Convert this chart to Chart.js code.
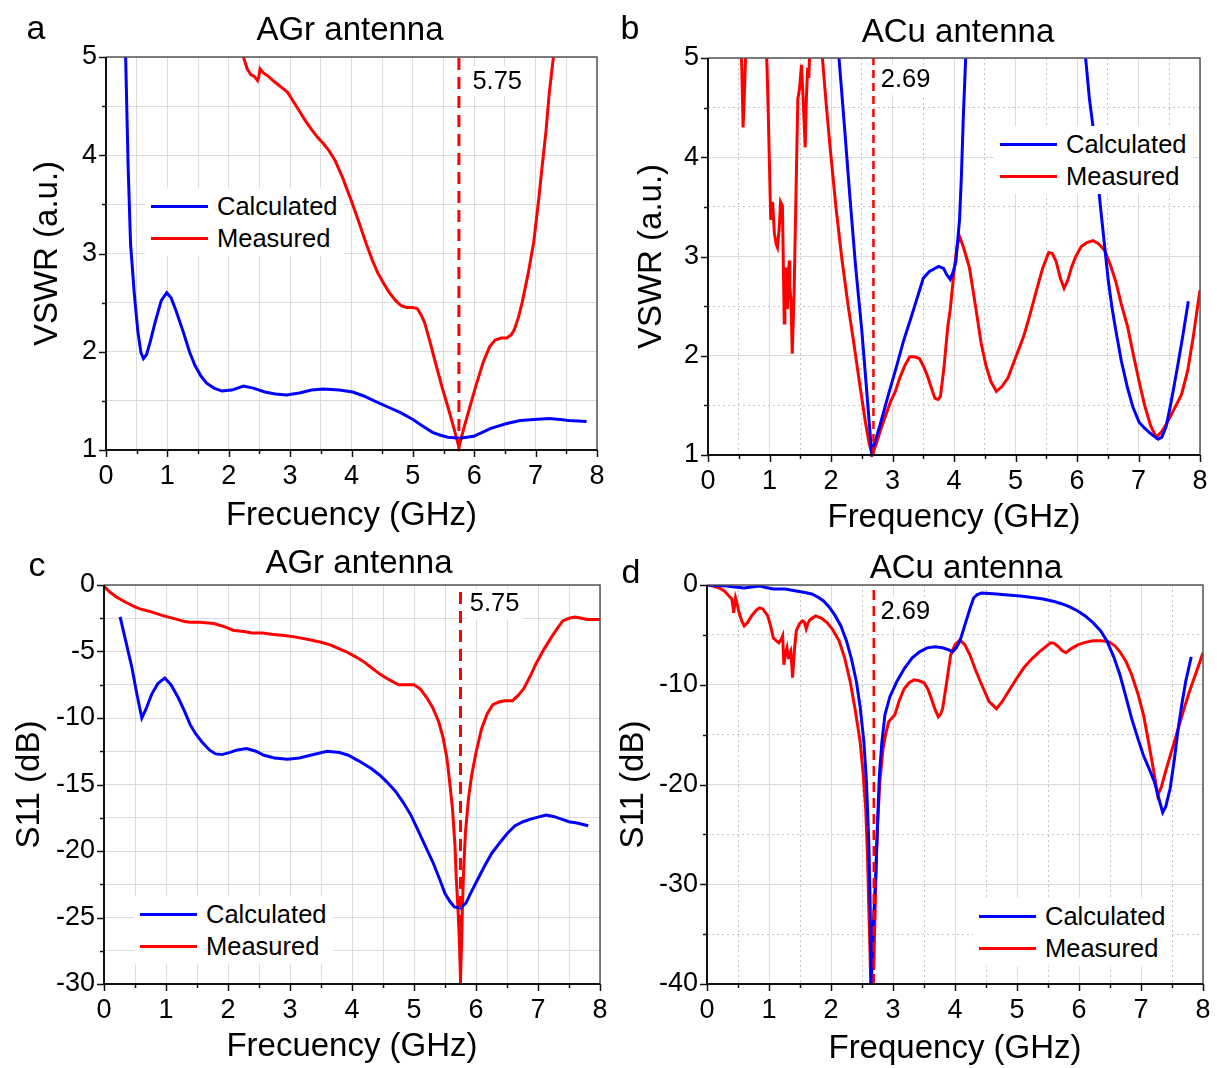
<!DOCTYPE html>
<html>
<head>
<meta charset="utf-8">
<script src="https://cdn.jsdelivr.net/npm/chart.js@4.4.1/dist/chart.umd.min.js"></script>
<style>
  body { margin: 0; background: #fff; font-family: "Liberation Sans", Arial, sans-serif; }
  #page { position: relative; width: 1217px; height: 1068px; overflow: hidden; }
  canvas { position: absolute; }
  .lbl { position: absolute; transform: translate(-50%, -50%); line-height: 1; white-space: nowrap; color: #000; }
  .legend { position: absolute; background: #fff; padding: 2px 6px; }
  .legend .row { display: flex; align-items: center; height: 32px; font-size: 25.5px; color: #000; }
  .legend .swatch { width: 57px; height: 3px; margin-right: 9px; }
</style>
</head>
<body>
<div id="page"></div>
<script>
// ---- data ----
const seriesNames = ['Calculated', 'Measured'];
const markerGHz = [5.75, 2.69, 5.75, 2.69];

// a: VSWR, AGr antenna
const aCalcX = [0.30, 0.32, 0.36, 0.40, 0.46, 0.52, 0.57, 0.61, 0.66, 0.72, 0.80, 0.90, 0.99, 1.06, 1.14, 1.26, 1.36, 1.45, 1.55, 1.64, 1.76, 1.89, 2.05, 2.24, 2.40, 2.59, 2.76, 2.94, 3.15, 3.35, 3.54, 3.80, 4.02, 4.20, 4.37, 4.62, 4.80, 5.00, 5.17, 5.32, 5.45, 5.57, 5.77, 5.99, 6.13, 6.27, 6.53, 6.75, 6.97, 7.22, 7.40, 7.54, 7.83];
const aCalcY = [5.60, 5.00, 3.90, 3.10, 2.60, 2.20, 1.99, 1.93, 1.97, 2.10, 2.30, 2.52, 2.60, 2.55, 2.42, 2.20, 2.00, 1.86, 1.75, 1.68, 1.63, 1.60, 1.61, 1.65, 1.63, 1.59, 1.57, 1.56, 1.58, 1.61, 1.62, 1.61, 1.59, 1.55, 1.50, 1.43, 1.38, 1.31, 1.24, 1.18, 1.15, 1.13, 1.12, 1.14, 1.18, 1.22, 1.27, 1.30, 1.31, 1.32, 1.31, 1.30, 1.29];
const aMeasX = [2.15, 2.24, 2.30, 2.36, 2.42, 2.47, 2.49, 2.51, 2.56, 2.65, 2.76, 2.88, 2.96, 3.05, 3.15, 3.25, 3.35, 3.45, 3.54, 3.63, 3.73, 3.85, 3.99, 4.12, 4.24, 4.34, 4.43, 4.53, 4.62, 4.72, 4.81, 4.90, 5.00, 5.07, 5.13, 5.19, 5.27, 5.38, 5.48, 5.57, 5.66, 5.75, 5.83, 5.92, 6.03, 6.15, 6.25, 6.34, 6.44, 6.53, 6.60, 6.65, 6.72, 6.78, 6.88, 6.97, 7.05, 7.10, 7.17, 7.22, 7.29, 7.33];
const aMeasY = [5.30, 5.00, 4.88, 4.82, 4.80, 4.76, 4.80, 4.88, 4.84, 4.80, 4.74, 4.68, 4.64, 4.55, 4.45, 4.35, 4.26, 4.18, 4.12, 4.05, 3.95, 3.78, 3.55, 3.32, 3.10, 2.93, 2.80, 2.69, 2.60, 2.52, 2.47, 2.45, 2.45, 2.44, 2.38, 2.30, 2.12, 1.86, 1.63, 1.44, 1.24, 1.03, 1.22, 1.42, 1.66, 1.90, 2.05, 2.12, 2.14, 2.14, 2.17, 2.22, 2.35, 2.50, 2.80, 3.12, 3.55, 3.85, 4.25, 4.62, 5.00, 5.30];

// b: VSWR, ACu antenna
const bCalcX = [2.10, 2.13, 2.22, 2.31, 2.40, 2.50, 2.58, 2.66, 2.72, 2.81, 2.93, 3.06, 3.18, 3.31, 3.42, 3.50, 3.60, 3.75, 3.83, 3.88, 3.94, 3.99, 4.03, 4.09, 4.12, 4.15, 4.19, 4.21, 6.12, 6.14, 6.20, 6.26, 6.32, 6.38, 6.45, 6.51, 6.57, 6.63, 6.72, 6.82, 6.91, 7.01, 7.10, 7.17, 7.25, 7.32, 7.38, 7.45, 7.52, 7.58, 7.64, 7.72, 7.81];
const bCalcY = [5.30, 5.00, 4.30, 3.58, 2.90, 2.26, 1.65, 1.03, 1.14, 1.33, 1.60, 1.88, 2.15, 2.40, 2.62, 2.78, 2.85, 2.90, 2.88, 2.82, 2.77, 2.85, 2.95, 3.37, 3.80, 4.38, 5.00, 5.40, 5.40, 5.00, 4.60, 4.31, 3.90, 3.51, 3.10, 2.75, 2.48, 2.26, 1.95, 1.68, 1.48, 1.33, 1.27, 1.23, 1.19, 1.16, 1.18, 1.29, 1.50, 1.70, 1.91, 2.20, 2.55];
const bMeasX = [0.52, 0.55, 0.57, 0.59, 0.61, 0.63, 0.93, 0.96, 0.98, 1.00, 1.02, 1.05, 1.08, 1.11, 1.13, 1.16, 1.18, 1.21, 1.24, 1.25, 1.27, 1.29, 1.32, 1.33, 1.35, 1.37, 1.40, 1.43, 1.46, 1.49, 1.52, 1.55, 1.58, 1.60, 1.62, 1.64, 1.65, 1.67, 1.84, 1.86, 1.92, 1.99, 2.08, 2.18, 2.28, 2.37, 2.47, 2.56, 2.62, 2.67, 2.74, 2.81, 2.89, 2.97, 3.04, 3.12, 3.20, 3.28, 3.36, 3.44, 3.50, 3.56, 3.63, 3.69, 3.74, 3.78, 3.84, 3.90, 3.94, 4.00, 4.05, 4.09, 4.15, 4.25, 4.35, 4.44, 4.52, 4.60, 4.69, 4.78, 4.88, 5.00, 5.13, 5.22, 5.32, 5.44, 5.54, 5.60, 5.66, 5.73, 5.79, 5.85, 5.91, 5.98, 6.07, 6.16, 6.26, 6.35, 6.45, 6.54, 6.63, 6.72, 6.82, 6.92, 7.01, 7.10, 7.20, 7.29, 7.37, 7.45, 7.57, 7.70, 7.80, 7.89, 7.95, 8.00];
const bMeasY = [5.30, 4.90, 4.30, 4.60, 5.00, 5.40, 5.40, 4.90, 4.45, 3.90, 3.37, 3.55, 3.23, 3.12, 3.09, 3.30, 3.55, 3.51, 2.33, 2.45, 2.89, 2.47, 2.96, 2.70, 2.54, 2.02, 2.64, 3.60, 4.58, 4.70, 4.93, 4.55, 4.10, 4.60, 4.90, 4.80, 5.00, 5.40, 5.40, 5.00, 4.55, 4.07, 3.50, 2.96, 2.50, 2.13, 1.70, 1.33, 1.12, 1.00, 1.12, 1.26, 1.40, 1.54, 1.63, 1.78, 1.90, 1.99, 1.99, 1.97, 1.90, 1.81, 1.68, 1.57, 1.56, 1.59, 1.90, 2.30, 2.47, 2.85, 3.10, 3.20, 3.10, 2.89, 2.50, 2.13, 1.90, 1.74, 1.64, 1.69, 1.78, 1.98, 2.19, 2.38, 2.61, 2.88, 3.04, 3.03, 2.95, 2.78, 2.68, 2.76, 2.89, 3.00, 3.10, 3.14, 3.16, 3.13, 3.06, 2.92, 2.75, 2.52, 2.30, 2.00, 1.74, 1.50, 1.29, 1.18, 1.23, 1.31, 1.45, 1.61, 1.85, 2.19, 2.45, 2.66];

// c: S11, AGr antenna
const cCalcX = [0.26, 0.35, 0.45, 0.53, 0.61, 0.68, 0.77, 0.87, 0.98, 1.08, 1.20, 1.30, 1.39, 1.48, 1.58, 1.70, 1.80, 1.90, 2.02, 2.15, 2.30, 2.45, 2.58, 2.75, 2.96, 3.15, 3.33, 3.60, 3.80, 3.94, 4.10, 4.31, 4.45, 4.56, 4.70, 4.82, 4.95, 5.06, 5.20, 5.31, 5.42, 5.50, 5.58, 5.65, 5.75, 5.84, 5.91, 6.02, 6.13, 6.25, 6.38, 6.50, 6.63, 6.76, 6.88, 7.00, 7.13, 7.25, 7.38, 7.50, 7.63, 7.81];
const cCalcY = [-2.4, -4.2, -6.2, -8.2, -10.0, -9.3, -8.2, -7.4, -7.0, -7.5, -8.5, -9.5, -10.5, -11.2, -11.8, -12.4, -12.7, -12.75, -12.6, -12.4, -12.3, -12.5, -12.8, -13.0, -13.1, -13.0, -12.8, -12.5, -12.6, -12.8, -13.2, -13.8, -14.3, -14.8, -15.5, -16.3, -17.3, -18.4, -19.8, -20.9, -22.2, -23.2, -23.8, -24.2, -24.3, -23.9, -23.2, -22.2, -21.2, -20.2, -19.4, -18.7, -18.1, -17.8, -17.6, -17.45, -17.3, -17.4, -17.6, -17.8, -17.9, -18.1];
const cMeasX = [0.00, 0.10, 0.20, 0.35, 0.50, 0.58, 0.75, 0.95, 1.15, 1.30, 1.39, 1.55, 1.77, 1.95, 2.08, 2.25, 2.39, 2.55, 2.70, 2.90, 3.07, 3.30, 3.50, 3.65, 3.75, 3.90, 4.06, 4.20, 4.31, 4.45, 4.59, 4.75, 4.88, 5.00, 5.10, 5.21, 5.30, 5.40, 5.47, 5.53, 5.58, 5.62, 5.66, 5.68, 5.71, 5.73, 5.75, 5.77, 5.78, 5.80, 5.83, 5.88, 5.93, 6.00, 6.09, 6.18, 6.27, 6.37, 6.46, 6.59, 6.68, 6.77, 6.87, 6.97, 7.10, 7.22, 7.32, 7.40, 7.50, 7.60, 7.70, 7.79, 8.00];
const cMeasY = [-0.1, -0.55, -0.9, -1.3, -1.65, -1.8, -2.0, -2.3, -2.55, -2.75, -2.8, -2.8, -2.9, -3.15, -3.4, -3.5, -3.6, -3.6, -3.7, -3.8, -3.9, -4.1, -4.3, -4.5, -4.7, -5.0, -5.4, -5.8, -6.2, -6.7, -7.1, -7.5, -7.5, -7.5, -7.8, -8.5, -9.2, -10.3, -11.5, -13.0, -15.0, -16.8, -19.5, -21.9, -24.4, -26.5, -29.7, -26.5, -24.4, -21.5, -18.6, -16.0, -14.3, -12.6, -10.8, -9.7, -9.0, -8.8, -8.7, -8.7, -8.3, -7.8, -6.9, -5.9, -4.8, -3.9, -3.2, -2.7, -2.5, -2.4, -2.5, -2.6, -2.6];

// d: S11, ACu antenna
const dCalcX = [0.00, 0.32, 0.45, 0.60, 0.72, 0.85, 0.95, 1.07, 1.26, 1.44, 1.58, 1.69, 1.80, 1.88, 1.97, 2.06, 2.16, 2.25, 2.33, 2.41, 2.47, 2.53, 2.57, 2.61, 2.63, 2.65, 2.68, 2.72, 2.75, 2.78, 2.82, 2.87, 2.95, 3.06, 3.18, 3.31, 3.43, 3.55, 3.68, 3.80, 3.90, 3.96, 4.02, 4.08, 4.13, 4.18, 4.24, 4.30, 4.36, 4.43, 4.55, 4.67, 4.85, 5.05, 5.25, 5.42, 5.60, 5.73, 5.85, 5.98, 6.10, 6.23, 6.35, 6.45, 6.56, 6.66, 6.76, 6.85, 6.95, 7.04, 7.13, 7.22, 7.30, 7.35, 7.40, 7.47, 7.54, 7.60, 7.66, 7.72, 7.81];
const dCalcY = [0.0, -0.1, -0.2, -0.3, -0.2, -0.1, -0.25, -0.4, -0.4, -0.6, -0.75, -0.9, -1.25, -1.6, -2.2, -3.0, -4.1, -5.6, -7.4, -9.7, -12.2, -15.7, -19.5, -25.8, -31.5, -40.0, -34.5, -29.2, -24.0, -19.1, -15.8, -13.0, -11.2, -9.7, -8.4, -7.3, -6.7, -6.3, -6.2, -6.3, -6.5, -6.7, -6.3, -5.6, -4.6, -3.6, -2.4, -1.3, -0.95, -0.8, -0.85, -0.9, -1.0, -1.1, -1.25, -1.4, -1.65, -1.9, -2.2, -2.6, -3.1, -3.8, -4.6, -5.6, -7.2, -9.0, -11.3, -13.4, -15.4, -17.1, -18.4, -19.8, -21.7, -22.8, -22.2, -20.4, -17.4, -14.4, -11.9, -9.7, -7.2];
const dMeasX = [0.00, 0.10, 0.20, 0.28, 0.34, 0.40, 0.42, 0.43, 0.45, 0.46, 0.49, 0.51, 0.56, 0.60, 0.65, 0.73, 0.80, 0.85, 0.90, 0.98, 1.03, 1.07, 1.12, 1.16, 1.20, 1.22, 1.24, 1.26, 1.29, 1.31, 1.32, 1.35, 1.37, 1.38, 1.41, 1.44, 1.49, 1.54, 1.57, 1.60, 1.63, 1.66, 1.75, 1.85, 1.94, 2.03, 2.13, 2.22, 2.31, 2.39, 2.47, 2.52, 2.56, 2.59, 2.61, 2.63, 2.64, 2.66, 2.67, 2.69, 2.71, 2.73, 2.75, 2.79, 2.84, 2.88, 2.93, 3.03, 3.10, 3.18, 3.26, 3.34, 3.42, 3.50, 3.56, 3.62, 3.68, 3.73, 3.77, 3.80, 3.86, 3.93, 4.00, 4.08, 4.16, 4.24, 4.33, 4.43, 4.55, 4.67, 4.76, 4.86, 4.98, 5.11, 5.24, 5.36, 5.46, 5.54, 5.60, 5.67, 5.73, 5.79, 5.87, 5.98, 6.10, 6.23, 6.36, 6.48, 6.58, 6.66, 6.76, 6.85, 6.95, 7.04, 7.10, 7.16, 7.22, 7.27, 7.33, 7.41, 7.50, 7.60, 7.70, 7.78, 7.90, 8.00];
const dMeasY = [0.0, -0.1, -0.3, -0.6, -1.0, -1.4, -2.2, -2.8, -1.8, -1.3, -2.0, -2.6, -3.6, -4.1, -3.8, -3.0, -2.5, -2.3, -2.4, -3.1, -4.2, -5.3, -5.6, -5.8, -5.4, -5.1, -8.0, -7.0, -6.3, -7.3, -7.0, -6.6, -8.2, -9.3, -6.5, -4.6, -3.9, -3.6, -3.7, -4.4, -3.8, -3.5, -3.1, -3.35, -3.8, -4.5, -5.6, -7.3, -9.7, -12.5, -15.7, -19.0, -22.5, -27.5, -32.5, -37.0, -40.0, -36.5, -35.9, -38.6, -33.0, -28.0, -24.1, -19.5, -16.4, -15.0, -13.7, -13.0, -11.6, -10.4, -9.8, -9.5, -9.6, -9.8, -10.4, -11.4, -12.5, -13.2, -12.9, -12.4, -10.0, -7.0, -6.0, -5.5, -6.0, -7.0, -8.5, -10.0, -11.7, -12.4, -11.7, -10.7, -9.5, -8.3, -7.4, -6.7, -6.2, -5.8, -5.85, -6.2, -6.6, -6.8, -6.4, -6.0, -5.75, -5.6, -5.6, -5.7, -6.1, -6.7, -7.7, -9.0, -10.9, -13.0, -15.0, -17.1, -19.2, -21.1, -20.2, -18.4, -16.5, -14.4, -12.3, -10.7, -8.6, -6.8];

// ---- layout ----
const FONT = '"Liberation Sans", Arial, sans-serif';
const pts = (xs, ys) => xs.map((x, i) => ({x: x, y: ys[i]}));

const panels = [
  {letter: 'a', title: 'AGr antenna', xTitle: 'Frecuency (GHz)', yTitle: 'VSWR (a.u.)',
   calc: [aCalcX, aCalcY], meas: [aMeasX, aMeasY], marker: markerGHz[0],
   yMin: 1, yMax: 5, yStep: 0.5, yMajor: 1, dotted: false,
   box: {left: 0, top: 0, w: 608, h: 534}, area: {l: 106, t: 57, r: 597, b: 450},
   yTitleX: 48, xTitleY: 516, letterPos: [36, 27], titlePos: [350, 28],
   legendPos: [151, 206], markerY: 4.75, markerDx: 0.22, dash: [12, 7]},
  {letter: 'b', title: 'ACu antenna', xTitle: 'Frequency (GHz)', yTitle: 'VSWR (a.u.)',
   calc: [bCalcX, bCalcY], meas: [bMeasX, bMeasY], marker: markerGHz[1],
   yMin: 1, yMax: 5, yStep: 0.5, yMajor: 1, dotted: true,
   box: {left: 608, top: 0, w: 609, h: 534}, area: {l: 708, t: 58, r: 1200, b: 455},
   yTitleX: 652, xTitleY: 518, letterPos: [630, 27], titlePos: [958, 30],
   legendPos: [1000, 144], markerY: 4.78, markerDx: 0.12, dash: [8, 5]},
  {letter: 'c', title: 'AGr antenna', xTitle: 'Frecuency (GHz)', yTitle: 'S11 (dB)',
   calc: [cCalcX, cCalcY], meas: [cMeasX, cMeasY], marker: markerGHz[2],
   yMin: -30, yMax: 0, yStep: 2.5, yMajor: 5, dotted: false,
   box: {left: 0, top: 534, w: 608, h: 534}, area: {l: 104, t: 585, r: 600, b: 984},
   yTitleX: 30, xTitleY: 1047, letterPos: [37, 564], titlePos: [359, 561],
   legendPos: [140, 914], markerY: -1.44, markerDx: 0.15, dash: [12, 7]},
  {letter: 'd', title: 'ACu antenna', xTitle: 'Frequency (GHz)', yTitle: 'S11 (dB)',
   calc: [dCalcX, dCalcY], meas: [dMeasX, dMeasY], marker: markerGHz[3],
   yMin: -40, yMax: 0, yStep: 5, yMajor: 10, dotted: true,
   box: {left: 608, top: 534, w: 609, h: 534}, area: {l: 707, t: 585, r: 1203, b: 984},
   yTitleX: 634, xTitleY: 1049, letterPos: [631, 571], titlePos: [966, 566],
   legendPos: [979, 916], markerY: -2.7, markerDx: 0.11, dash: [10, 6]}
];

const isMajor = (v, m) => Math.abs(v / m - Math.round(v / m)) < 1e-6;

// frame, outward ticks and the marker value label
const framePlugin = {
  id: 'frame',
  afterDatasetsDraw(chart, args, opts) {
    const {ctx, chartArea: a, scales: {x, y}} = chart;
    ctx.save();
    if (opts.text) {
      ctx.font = '25.5px ' + FONT;
      const px = x.getPixelForValue(opts.x), py = y.getPixelForValue(opts.y);
      const w = ctx.measureText(opts.text).width;
      ctx.fillStyle = '#fff';
      ctx.fillRect(px - 3, py - 15, w + 6, 30);
      ctx.fillStyle = '#000';
      ctx.textBaseline = 'middle';
      ctx.fillText(opts.text, px, py);
    }
    ctx.strokeStyle = '#111';
    ctx.lineWidth = 1.5;
    ctx.beginPath();
    x.ticks.forEach(t => {
      const px = Math.round(x.getPixelForValue(t.value)) + 0.5;
      ctx.moveTo(px, a.bottom);
      ctx.lineTo(px, a.bottom + (t.label !== '' ? 7 : 4));
    });
    y.ticks.forEach(t => {
      const py = Math.round(y.getPixelForValue(t.value)) + 0.5;
      ctx.moveTo(a.left, py);
      ctx.lineTo(a.left - (t.label !== '' ? 7 : 4), py);
    });
    ctx.stroke();
    ctx.strokeStyle = '#555';
    ctx.lineWidth = 1.5;
    ctx.beginPath();
    ctx.moveTo(a.left, a.top);
    ctx.lineTo(a.right, a.top);
    ctx.lineTo(a.right, a.bottom);
    ctx.stroke();
    ctx.strokeStyle = '#111';
    ctx.lineWidth = 2;
    ctx.beginPath();
    ctx.moveTo(a.left, a.top);
    ctx.lineTo(a.left, a.bottom);
    ctx.lineTo(a.right, a.bottom);
    ctx.stroke();
    ctx.restore();
  }
};

const page = document.getElementById('page');

panels.forEach(p => {
  const canvas = document.createElement('canvas');
  canvas.width = p.box.w;
  canvas.height = p.box.h;
  canvas.style.left = p.box.left + 'px';
  canvas.style.top = p.box.top + 'px';
  page.appendChild(canvas);

  const yW = p.area.l - p.box.left;
  const xH = p.box.top + p.box.h - p.area.b;
  const gridColor = ctx => {
    if (!ctx.tick) return '#ddd';
    return p.dotted && !ctx.tick.label ? '#c4c4c4' : '#dcdcdc';
  };
  const gridDash = ctx => (p.dotted && ctx.tick && !ctx.tick.label) ? [2, 3] : [];

  const chart = new Chart(canvas, {
    type: 'line',
    data: {
      datasets: [
        {data: [{x: p.marker, y: p.yMin}, {x: p.marker, y: p.yMax}],
         borderColor: '#ff0000', borderWidth: p.dotted ? 2.5 : 3, borderDash: p.dash},
        {label: seriesNames[0], data: pts(p.calc[0], p.calc[1]), borderColor: '#0000ff', borderWidth: 3},
        {label: seriesNames[1], data: pts(p.meas[0], p.meas[1]), borderColor: '#ff0000', borderWidth: 3}
      ]
    },
    options: {
      responsive: false,
      animation: false,
      devicePixelRatio: 1,
      layout: {padding: {left: 0, top: p.area.t - p.box.top, right: p.box.left + p.box.w - p.area.r, bottom: 0}},
      elements: {point: {radius: 0}, line: {tension: 0, fill: false}},
      datasets: {line: {clip: {left: 0, top: 0, right: 0, bottom: 2}}},
      plugins: {
        legend: {display: false},
        tooltip: {enabled: false},
        frame: {text: p.marker.toFixed(2), x: p.marker + p.markerDx, y: p.markerY}
      },
      scales: {
        x: {
          type: 'linear', min: 0, max: 8,
          afterFit: s => { s.height = xH; s.paddingLeft = 0; s.paddingRight = 0; },
          ticks: {stepSize: 0.5, autoSkip: false, maxRotation: 0, padding: 10, color: '#000',
                  font: {family: FONT, size: 27},
                  callback: v => isMajor(v, 1) ? String(Math.round(v)) : ''},
          grid: {drawTicks: false, color: gridColor, lineWidth: 1},
          border: {display: false, dash: gridDash},
          title: {display: true, text: p.xTitle, color: '#000',
                  font: {family: FONT, size: 33, lineHeight: 1},
                  padding: {top: 0, bottom: Math.max(0, p.box.top + p.box.h - p.xTitleY - 16.5)}}
        },
        y: {
          type: 'linear', min: p.yMin, max: p.yMax,
          afterFit: s => { s.width = yW; s.paddingTop = 0; s.paddingBottom = 0; },
          ticks: {stepSize: p.yStep, autoSkip: false, padding: 9, color: '#000',
                  font: {family: FONT, size: 27},
                  callback: v => isMajor(v, p.yMajor) ? String(Math.round(v)) : ''},
          grid: {drawTicks: false, color: gridColor, lineWidth: 1},
          border: {display: false, dash: gridDash},
          title: {display: true, text: p.yTitle, color: '#000',
                  font: {family: FONT, size: 33, lineHeight: 1},
                  padding: {top: p.yTitleX - p.box.left - 16.5, bottom: 0}}
        }
      }
    },
    plugins: [framePlugin]
  });

  const addText = (txt, pos, size) => {
    const d = document.createElement('div');
    d.className = 'lbl';
    d.textContent = txt;
    d.style.left = pos[0] + 'px';
    d.style.top = pos[1] + 'px';
    d.style.fontSize = size + 'px';
    page.appendChild(d);
  };
  addText(p.letter, p.letterPos, 34);
  addText(p.title, p.titlePos, 33);

  const lg = document.createElement('div');
  lg.className = 'legend';
  lg.style.left = (p.legendPos[0] - 6) + 'px';
  lg.style.top = (p.legendPos[1] - 18) + 'px';
  chart.data.datasets.filter(ds => ds.label).forEach(ds => {
    const row = document.createElement('div');
    row.className = 'row';
    const sw = document.createElement('span');
    sw.className = 'swatch';
    sw.style.background = ds.borderColor;
    const tx = document.createElement('span');
    tx.textContent = ds.label;
    row.appendChild(sw);
    row.appendChild(tx);
    lg.appendChild(row);
  });
  page.appendChild(lg);
});
</script>
</body>
</html>
